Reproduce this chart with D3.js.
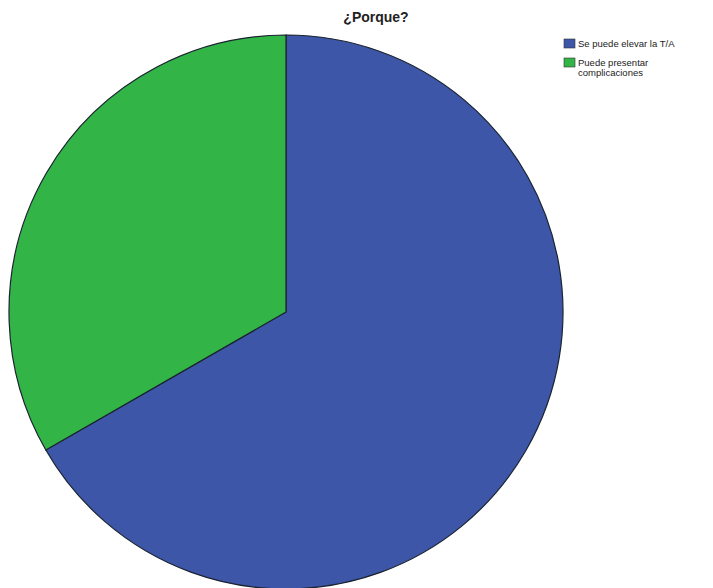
<!DOCTYPE html>
<html>
<head>
<meta charset="utf-8">
<script src="https://cdn.jsdelivr.net/npm/d3@7"></script>
<style>
  html, body { margin: 0; padding: 0; background: #fff; }
  svg { display: block; }
</style>
</head>
<body>
<svg id="chart" width="713" height="588"></svg>
<script>
// Response categories and their share of answers (%)
const categories = ["Se puede elevar la T/A", "Puede presentar complicaciones"];
const values = [66.7, 33.3];
const colors = ["#3d56a8", "#32b447"];
const legendLines = [["Se puede elevar la T/A"], ["Puede presentar", "complicaciones"]];
const title = "¿Porque?";

const svg = d3.select("#chart");
const cx = 286, cy = 312, r = 277;

const pie = d3.pie().sort(null).value(d => d.value);
const arc = d3.arc().innerRadius(0).outerRadius(r);
const data = categories.map((c, i) => ({ name: c, value: values[i], color: colors[i] }));

svg.append("g")
  .attr("transform", `translate(${cx},${cy})`)
  .selectAll("path")
  .data(pie(data))
  .join("path")
  .attr("d", arc)
  .attr("fill", d => d.data.color)
  .attr("stroke", "#1b2330")
  .attr("stroke-width", 1.2);

svg.append("text")
  .attr("x", 376)
  .attr("y", 22)
  .attr("text-anchor", "middle")
  .attr("font-family", "Liberation Sans, Arial, sans-serif")
  .attr("font-weight", "bold")
  .attr("font-size", 14)
  .attr("fill", "#222")
  .text(title);

// Legend
const legend = svg.append("g").attr("transform", "translate(564,38)");
const rowY = [0, 19];
data.forEach((d, i) => {
  const g = legend.append("g").attr("transform", `translate(0,${rowY[i]})`);
  g.append("rect")
    .attr("x", 0).attr("y", 1)
    .attr("width", 11).attr("height", 9)
    .attr("fill", d.color)
    .attr("stroke", "#333")
    .attr("stroke-width", 0.6);
  legendLines[i].forEach((line, j) => {
    g.append("text")
      .attr("x", 14)
      .attr("y", 8.5 + j * 10)
      .attr("font-family", "Liberation Sans, Arial, sans-serif")
      .attr("font-size", 9.5)
      .attr("fill", "#222")
      .text(line);
  });
});
</script>
</body>
</html>
